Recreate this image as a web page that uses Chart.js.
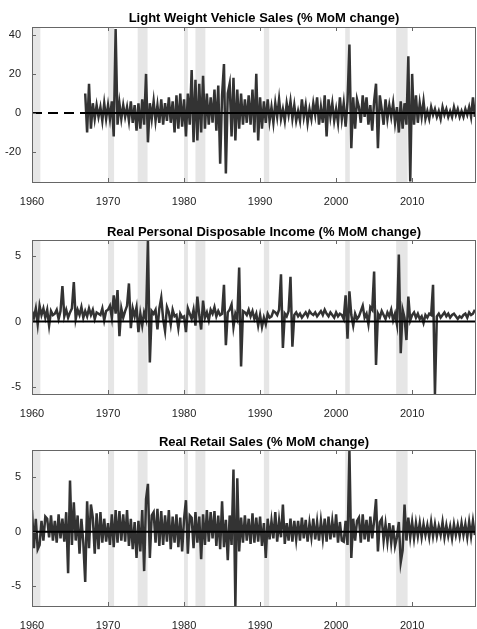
<!DOCTYPE html>
<html><head><meta charset="utf-8">
<script src="https://cdn.jsdelivr.net/npm/chart.js@4"></script>
<style>body{margin:0;background:#fff;width:477px;height:629px;position:relative;overflow:hidden}
.p{position:absolute;left:0;width:477px;height:209px}</style></head><body>
<div class="p" style="top:0"><canvas id="c1"></canvas></div>
<div class="p" style="top:210px"><canvas id="c2"></canvas></div>
<div class="p" style="top:420px"><canvas id="c3"></canvas></div>
<script>
const titles=["Light Weight Vehicle Sales (% MoM change)","Real Personal Disposable Income (% MoM change)","Real Retail Sales (% MoM change)"];
const xTicks=[1960,1970,1980,1990,2000,2010];
const recStart=[1960.1,1970.0,1973.9,1980.0,1981.5,1990.5,2001.2,2007.9];
const recEnd=[1961.1,1970.8,1975.2,1980.5,1982.8,1991.2,2001.8,2009.4];
const vehicleStart=1967.0;
const vehicle=[10,-10,15,-8, 5,-3,4,-2, 3,-4,5,-3, 4,-3,6,-12, 43,-6,5,-3, 4,-2,3,-4, 6,-5,4,-9, 5,-8,7,-6,
20,-15,5,-3, 6,-4,4,-5, 7,-6,5,-4, 8,-5,6,-10, 9,-8,10,-7, 7,-12,10,-6, 22,-15,17,-14, 15,-10,19,-8,
10,-6,8,-5, 12,-9,14,-26, 9,25,-31,10, 15,-12,18,-14, 12,-8,10,-6, 7,-5,9,-6, 12,-10,20,-14, 8,-8,6,-5,
7,-4,3,-5, 5,-2,7,-3, 2,-4,5,-1, 6,-3,4,-4, 1,-4,7,-2, 4,-5,2,-3, 5,-1,8,-6, 3,-5,9,-12, 7,-2,5,-4,
2,-5,8,-3, 5,-7,6,35, -18,8,-8,7, 3,-5,9,-2, 8,-6,4,-9, 6,15,-18,9, 2,-6,7,-3, 4,-2,5,-5, 3,-10,6,-8,
5,-6,29,-35, 20,-6,9,-5, 5,-2,6,-3, 1,-3,3,-1, 2,-2,1,-3, 3,-1,2,-2, 1,-2,3,-1, 2,-2,1,-2, 2,-1,3,-2, 8,-2];
const incomeStart=1960.0;
const income=[0.8,0.3,1.0,-0.2, 1.2,0.5,1.0,0.3, 0.9,-0.3,0.8,0.5, 0.6,0.9,0.2,0.8, 2.7,0.4,0.9,0.3, 0.7,1.0,3.0,0.2,
0.9,0.5,1.1,0.3, 0.8,0.4,1.0,0.5, 0.9,0.2,0.7,0.6, 0.5,1.0,0.1,0.8, 0.9,1.2,0.3,2.0, 0.6,2.4,-1.1,1.0,
0.3,0.8,1.2,2.9, -0.5,1.0,0.4,1.1, -0.8,0.6,-0.3,0.7, 0.2,6.2,-3.1,0.8, 0.6,0.9,-0.6,1.0, 1.8,0.2,-0.7,1.1,
0.7,-0.2,0.9,0.4, 0.5,-0.5,0.6,0.3, 0.4,-0.8,1.0,0.6, 0.2,0.9,-0.3,1.9, 0.5,-0.6,1.6,0.3, 0.7,0.1,0.9,0.6,
1.1,0.4,0.8,0.5, 0.6,2.8,-1.8,0.7, 0.9,1.3,-0.4,0.6, 0.2,4.1,-3.4,0.8, 0.7,0.5,0.9,0.4, 0.8,0.2,0.6,-0.3,
0.5,-0.4,0.3,-0.2, 0.6,0.3,0.4,0.8, 0.7,0.5,0.9,3.6, -2.0,0.6,0.4,0.8, 3.4,-1.9,0.5,0.7, 0.4,0.6,0.3,0.5,
0.7,0.4,0.8,0.6, 0.5,0.7,0.4,0.6, 0.8,0.5,0.9,0.6, 0.4,0.7,0.5,0.3, 0.7,0.4,0.6,0.5, 0.2,2.0,-1.3,2.3,
0.5,-0.3,0.6,0.2, 0.4,0.8,1.2,0.3, 0.6,-0.2,1.1,0.9, 3.8,-3.3,0.6,0.3, 0.8,0.5,0.2,0.7, 0.4,0.9,0.1,0.6,
-0.2,5.1,-2.4,0.9, 0.3,-1.4,1.9,0.1, 0.5,0.7,0.3,0.6, 0.2,0.4,-0.1,0.5, 0.3,0.6,0.5,2.8, -5.5,0.4,0.6,0.3,
0.5,0.7,0.4,0.6, 0.3,0.5,0.6,0.4, 0.2,0.4,0.3,0.5, 0.6,0.3,0.7,0.5, 0.6,0.9];
const retailStart=1960.0;
const retail=[2.0,-1.5,1.2,-1.6, -1.2,1.0,-0.8,1.4, 1.2,-0.5,1.5,-0.8, 1.0,-1.0,1.6,-0.6, 1.2,-0.9,1.8,-3.8, 4.7,-1.2,2.7,-0.8,
1.5,-2.0,1.2,-1.0, -4.6,2.8,-1.5,2.5, 1.3,-2.0,1.7,-1.6, 1.8,-1.0,1.2,-0.9, 0.8,-1.2,1.6,-1.4, 2.0,-1.0,1.9,-0.8,
1.6,-0.9,2.0,-1.3, 1.2,-1.6,0.9,-2.4, 1.0,-1.8,2.0,-3.6, 3.0,4.4,-2.4,1.5, 1.8,-1.0,2.1,-1.3, 1.9,-1.2,1.5,-0.9,
2.0,-1.6,1.4,-1.0, 1.6,-1.4,1.3,-1.8, 1.2,2.9,-2.0,1.5, 1.3,-1.5,1.8,-1.0, 1.4,-2.5,1.6,-1.2, 2.0,-0.9,1.8,-0.6,
1.9,-1.3,1.5,-1.6, 2.8,-1.4,1.1,-2.6, 1.5,-1.2,5.7,-6.8, 4.9,-1.8,1.3,-1.0, 1.5,-0.8,1.2,-1.1, 1.7,-1.0,1.3,-0.9,
1.4,-1.3,0.8,-2.4, 1.2,-0.7,1.0,-0.6, 1.8,-0.9,1.0,-0.5, 2.5,-1.1,0.8,-0.8, 1.2,-0.9,1.0,-0.7, 1.0,-0.8,1.3,-0.6,
1.1,-0.9,0.8,-0.5, 1.2,-0.7,0.9,-0.8, 1.0,-0.6,1.2,-0.9, 1.4,-0.7,1.0,-0.5, 1.6,-1.0,0.9,-0.8, -0.9,1.0,-1.2,7.5,
-2.4,1.2,-0.8,1.0, 1.3,-1.0,1.6,-0.7, 1.1,-0.9,1.4,-0.6, 1.0,3.0,-1.8,0.9, 1.2,-0.8,0.7,-0.9, 0.8,-1.0,0.6,-1.3,
-0.5,0.9,-2.8,-1.7, 2.5,-0.8,1.3,-0.5, 0.9,-0.6,0.8,-0.4, 0.8,-0.5,0.7,-0.3, 0.6,-0.5,0.9,-0.4, 0.7,-0.4,0.5,-0.3,
0.9,-0.5,0.6,-0.4, 0.5,-0.6,0.7,-0.3, 0.6,-0.4,0.8,-0.3, 0.7,-0.5,0.9,-0.4, 1.0,-0.3];
const yTicks=[[-20,0,20,40],[-5,0,5],[-5,0,5]];
const yMin=[-35.3,-5.5,-6.8], yMax=[44,6.2,7.5];
const XMIN=1960, XMAX=2018.4;

function pts(start,vals){return vals.map((v,i)=>({x:start+i*0.25,y:v}));}

const deco={id:'deco',
 beforeDatasetsDraw(ch,a,o){const c=ch.ctx,ar=ch.chartArea,x=ch.scales.x;c.save();c.fillStyle='#e6e6e6';
  recStart.forEach((s,i)=>{const a1=x.getPixelForValue(s),a2=x.getPixelForValue(recEnd[i]);c.fillRect(a1,ar.top,a2-a1,ar.bottom-ar.top);});c.restore();},
 afterDraw(ch){const c=ch.ctx,ar=ch.chartArea,x=ch.scales.x;c.save();c.strokeStyle='#666';c.lineWidth=1;
  c.strokeRect(ar.left+0.5,ar.top+0.5,ar.right-ar.left-1,ar.bottom-ar.top);
  c.beginPath();xTicks.forEach(t=>{const p=Math.round(x.getPixelForValue(t))+0.5;c.moveTo(p,ar.bottom);c.lineTo(p,ar.bottom-4);c.moveTo(p,ar.top);c.lineTo(p,ar.top+4);});
  const y=ch.scales.y;y.ticks.forEach(t=>{const p=Math.round(y.getPixelForValue(t.value))+0.5;c.moveTo(ar.left,p);c.lineTo(ar.left+4,p);});
  c.stroke();
  c.fillStyle='#000';c.font='bold 13px "Liberation Sans", Arial, sans-serif';c.textAlign='center';c.textBaseline='middle';
  c.fillText(ch.options.plugins.deco.title,(ar.left+ar.right)/2+10,ch.options.plugins.deco.ty);c.restore();}};

function make(id,k,datasets,top,bottom,ty){
 new Chart(document.getElementById(id),{type:'line',data:{datasets},
  options:{responsive:true,maintainAspectRatio:false,animation:false,
   layout:{padding:{top:top,right:1,left:0,bottom:0}},
   plugins:{legend:{display:false},tooltip:{enabled:false},deco:{title:titles[k],ty:ty}},
   elements:{point:{radius:0},line:{tension:0}},
   scales:{
    x:{type:'linear',min:XMIN,max:XMAX,grid:{display:false},border:{display:false},
      afterBuildTicks:s=>{s.ticks=xTicks.map(v=>({value:v}));},
      afterFit:s=>{s.height=209-bottom;},
      ticks:{font:{size:11,family:'"Liberation Sans", Arial'},color:'#222',maxRotation:0,padding:5,callback:v=>String(v)}},
    y:{min:yMin[k],max:yMax[k],grid:{display:false},border:{display:false},
      afterBuildTicks:s=>{s.ticks=yTicks[k].map(v=>({value:v}));},
      afterFit:s=>{s.width=32;},
      ticks:{font:{size:11,family:'"Liberation Sans", Arial'},color:'#222',padding:3}}}},
  plugins:[deco]});
}
const ser=(d)=>({data:d,borderColor:'#333',borderWidth:2.5,fill:false});
make('c1',0,[
 {data:[{x:XMIN,y:0},{x:vehicleStart,y:0}],borderColor:'#000',borderWidth:2,borderDash:[10,6]},
 {data:[{x:vehicleStart,y:0},{x:XMAX,y:0}],borderColor:'#000',borderWidth:2},
 ser(pts(vehicleStart,vehicle))],27,182,18);
make('c2',1,[{data:[{x:XMIN,y:0},{x:XMAX,y:0}],borderColor:'#000',borderWidth:2},ser(pts(incomeStart,income))],30,184,22);
make('c3',2,[{data:[{x:XMIN,y:0},{x:XMAX,y:0}],borderColor:'#000',borderWidth:2},ser(pts(retailStart,retail))],30,186,22);
</script></body></html>
